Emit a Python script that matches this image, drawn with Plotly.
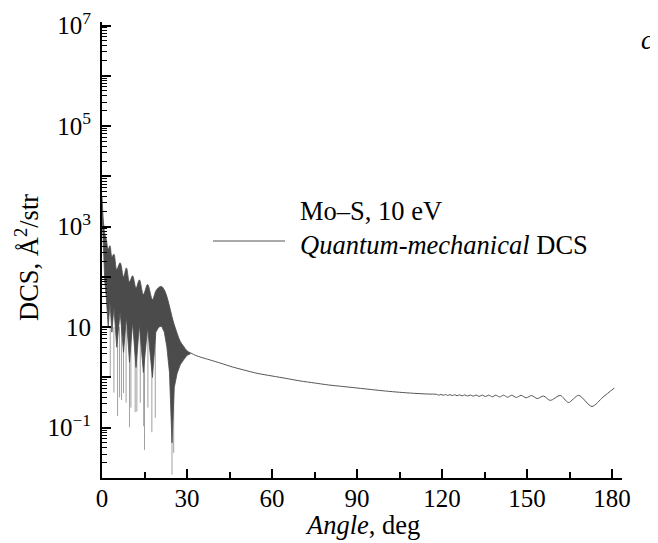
import plotly.graph_objects as go

# ---- data ----
band_angle = [0.0, 0.5, 1.0, 1.5, 2.2, 2.8, 3.5, 4.2, 5.2, 6.4, 7.6, 8.6, 9.7, 10.8, 12.0,
              13.2, 14.6, 16.1, 17.8, 19.0, 20.0, 21.0, 22.0, 22.9, 23.8, 24.7, 25.5,
              26.5, 27.6, 28.8, 30.0, 31.2]
band_upper = [3981, 1259, 708, 562, 355, 417, 251, 282, 141, 191, 100, 151, 79.4, 105, 60.3,
              87.1, 44.7, 70.8, 35.5, 52.5, 61.7, 64.6, 55.0, 40.7, 26.3, 16.2, 11.2,
              7.59, 5.25, 4.17, 3.39, 3.09]
band_lower = [1995, 251, 79.4, 39.8, 10.0, 31.6, 7.94, 25.1, 3.98, 20.0, 3.16, 15.8, 2.0, 12.6, 1.58,
              11.2, 1.26, 10.0, 1.0, 7.94, 10.0, 10.5, 7.94, 3.98, 1.26, 0.050, 0.631,
              1.20, 1.78, 2.24, 2.75, 2.95]

spike_angle = [2.9, 4.2, 5.5, 6.2, 6.9, 7.6, 8.5, 9.7, 10.2, 11.7, 12.3, 13.5, 14.7, 15.0,
               16.2, 17.6, 18.8, 24.7, 25.3]
spike_top = [10.0] * len(spike_angle)
spike_bottom = [1.05, 0.50, 0.17, 0.40, 0.355, 0.49, 0.316, 0.102, 0.251, 0.204, 0.209, 0.316,
                0.107, 0.0363, 0.251, 0.0813, 0.158, 0.0117, 0.0316]

tail_angle = [31.2, 33, 35, 38, 42, 46, 50, 55, 60, 65, 70, 75, 80, 85, 90, 95, 100, 105, 110, 115,
              118.0, 118.8, 119.6, 120.4, 121.2, 122.0, 122.8, 123.6, 124.4, 125.3, 126.2, 127.1,
              128.0, 129.0, 130.0, 131.0, 132.0, 133.1, 134.2, 135.3, 136.5, 137.7, 139.0, 140.3,
              141.7, 143.1, 144.6, 146.2, 147.9, 149.7, 151.6, 153.6, 155.8, 158.2, 161.7, 164.6,
              168.2, 172.9, 176.8, 180.8]
tail_dcs = [3.09, 2.75, 2.51, 2.24, 1.91, 1.62, 1.41, 1.20, 1.07, 0.955, 0.851, 0.776, 0.708, 0.661,
            0.617, 0.575, 0.537, 0.507, 0.484, 0.468,
            0.462, 0.445, 0.459, 0.442, 0.457, 0.439, 0.455, 0.436, 0.453, 0.433, 0.451, 0.430,
            0.450, 0.427, 0.448, 0.424, 0.447, 0.420, 0.446, 0.417, 0.445, 0.413, 0.444, 0.409,
            0.443, 0.405, 0.442, 0.400, 0.440, 0.394, 0.437, 0.380, 0.427, 0.349, 0.440, 0.318,
            0.440, 0.265, 0.407, 0.617]

x_tickvals = [0, 30, 60, 90, 120, 150, 180]
x_ticktext = ["0", "30", "60", "90", "120", "150", "180"]
x_minor = [15, 45, 75, 105, 135, 165]

y_tickvals = [1e-2, 1e-1, 1, 10, 1e2, 1e3, 1e4, 1e5, 1e6, 1e7]
y_ticktext = ["", "10<sup>\u22121</sup>", "", "10", "", "10<sup>3</sup>", "", "10<sup>5</sup>", "", "10<sup>7</sup>"]
y_minor = [k * 10.0 ** d for d in range(-2, 7) for k in range(2, 10)]

x_title = "<i>Angle</i>, deg"
y_title = "DCS, \u00c5<sup>2</sup>/str"
legend_title = "Mo\u2013S, 10 eV"
series_name = "<i>Quantum-mechanical</i> DCS"
panel_label = "<i>c</i>"

FONT = "Liberation Serif, Times New Roman, serif"
FS = 25
FL = 26.5
DARK = "#4b4b4b"

# page body has an 8 px margin: figure is 650x535 drawn at (8, 8)
W, H = 650, 535
ML, MT, PW, PH = 94, 14, 520, 456


def px(xp):   # reference page x -> paper x
    return (xp - 8 - ML) / PW


def py(yp):   # reference page y -> paper y
    return (MT + PH - (yp - 8)) / PH


fig = go.Figure()

# thin light spikes
sx, sy = [], []
for a, t, b in zip(spike_angle, spike_top, spike_bottom):
    sx += [a, a, None]
    sy += [t, b, None]
fig.add_trace(go.Scatter(x=sx, y=sy, mode="lines", line=dict(color="#a0a0a0", width=1),
                         showlegend=False, hoverinfo="skip"))

# dense oscillation band
fig.add_trace(go.Scatter(x=band_angle, y=band_lower, mode="lines",
                         line=dict(color=DARK, width=0.8), showlegend=False))
fig.add_trace(go.Scatter(x=band_angle, y=band_upper, mode="lines", fill="tonexty",
                         fillcolor=DARK, line=dict(color=DARK, width=0.8, shape="spline"),
                         showlegend=False))

# tail
fig.add_trace(go.Scatter(x=tail_angle, y=tail_dcs, mode="lines", name=series_name,
                         line=dict(color="#555555", width=1, shape="spline", smoothing=0.8),
                         showlegend=False))

fig.update_layout(
    width=W, height=H,
    margin=dict(l=ML, r=W - ML - PW, t=MT, b=H - MT - PH, autoexpand=False),
    paper_bgcolor="white", plot_bgcolor="white",
    font=dict(family=FONT, size=FS, color="black"),
    showlegend=False,
    xaxis=dict(range=[0, 183.5], showline=True, linecolor="black", linewidth=2,
               showgrid=False, zeroline=False, ticks="inside", ticklen=9, tickwidth=1.5,
               tickcolor="black", tickmode="array", tickvals=x_tickvals, ticktext=x_ticktext,
               minor=dict(ticks="inside", ticklen=6, tickwidth=1.5, tickcolor="black",
                          tickmode="array", tickvals=x_minor),
               automargin=False, ticklabelstandoff=-3, ticklabeloverflow="allow",
               tickfont=dict(family=FONT, size=FS)),
    yaxis=dict(type="log", range=[-2, 7.07], showline=True, linecolor="black", linewidth=2,
               showgrid=False, zeroline=False, ticks="inside", ticklen=9, tickwidth=1.5,
               tickcolor="black", tickmode="array", tickvals=y_tickvals, ticktext=y_ticktext,
               minor=dict(ticks="inside", ticklen=5, tickwidth=1.2, tickcolor="black",
                          tickmode="array", tickvals=y_minor),
               automargin=False, ticklabelstandoff=4, ticklabeloverflow="allow",
               tickfont=dict(family=FONT, size=FS)),
)

# axis titles
fig.add_annotation(text=x_title, xref="paper", yref="paper", x=0.5, y=py(525),
                   xanchor="center", yanchor="middle", showarrow=False,
                   font=dict(family=FONT, size=FL))
fig.add_annotation(text=y_title, xref="paper", yref="paper", x=px(27), y=py(258),
                   xanchor="center", yanchor="middle", showarrow=False, textangle=-90,
                   font=dict(family=FONT, size=FL))

# manual legend
fig.add_shape(type="line", xref="paper", yref="paper", x0=px(213), x1=px(285), y0=py(241), y1=py(241),
              line=dict(color="#555555", width=1))
fig.add_annotation(text=legend_title, xref="paper", yref="paper", x=px(298), y=py(211),
                   xanchor="left", yanchor="middle", showarrow=False,
                   font=dict(family=FONT, size=FL))
fig.add_annotation(text=series_name, xref="paper", yref="paper", x=px(298), y=py(245),
                   xanchor="left", yanchor="middle", showarrow=False,
                   font=dict(family=FONT, size=FL))
fig.add_annotation(text=panel_label, xref="paper", yref="paper", x=px(647), y=py(40),
                   xanchor="center", yanchor="middle", showarrow=False,
                   font=dict(family=FONT, size=FL))

fig.write_html("out.html")
